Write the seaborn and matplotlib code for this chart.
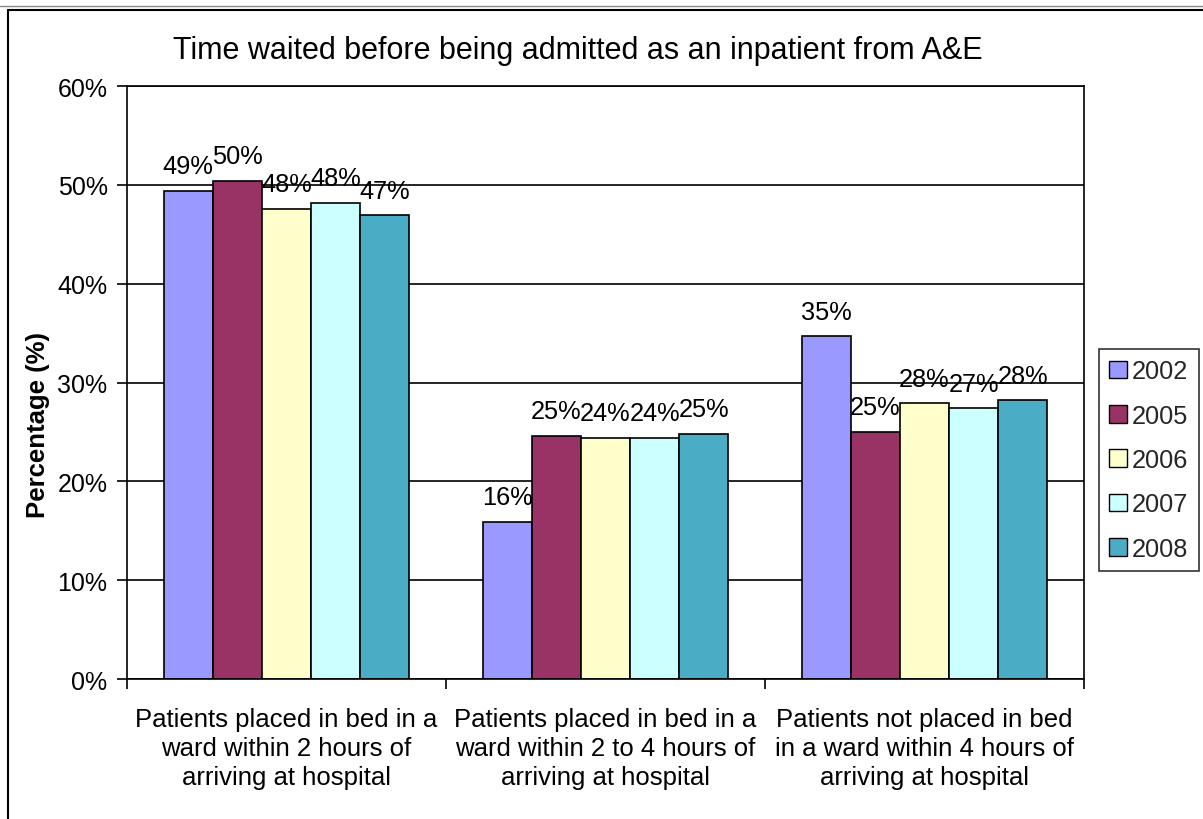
import matplotlib
matplotlib.use("Agg")
import matplotlib.pyplot as plt
import seaborn as sns
import pandas as pd
from matplotlib.lines import Line2D
from matplotlib.ticker import FixedLocator, PercentFormatter

categories = [
    "Patients placed in bed in a\nward within 2 hours of\narriving at hospital",
    "Patients placed in bed in a\nward within 2 to 4 hours of\narriving at hospital",
    "Patients not placed in bed\nin a ward within 4 hours of\narriving at hospital",
]
years = ["2002", "2005", "2006", "2007", "2008"]
values = {
    "2002": [49.4, 15.9, 34.7],
    "2005": [50.4, 24.6, 25.0],
    "2006": [47.6, 24.4, 27.9],
    "2007": [48.2, 24.4, 27.4],
    "2008": [46.9, 24.8, 28.2],
}
colors = ["#9999FF", "#993366", "#FFFFCC", "#CCFFFF", "#4BACC6"]

rows = []
for y in years:
    for c, v in zip(categories, values[y]):
        rows.append({"category": c, "year": y, "value": v})
df = pd.DataFrame(rows)

sns.set_theme(style="white")
plt.rcParams["font.family"] = ["Liberation Sans", "DejaVu Sans"]

fig = plt.figure(figsize=(12.03, 8.2), dpi=100)
ax = fig.add_axes([0.1056, 0.1707, 0.7955, 0.7232])

sns.barplot(data=df, x="category", y="value", hue="year", order=categories,
            hue_order=years, palette=colors, width=0.77, edgecolor="black",
            linewidth=1.2, saturation=1, ax=ax, errorbar=None, legend=True)

for cont, y in zip(ax.containers, years):
    labels = [f"{round(v):d}%" for v in values[y]]
    ax.bar_label(cont, labels=labels, padding=9, fontsize=18.3, color="black")

ax.set_ylim(0, 60)
ax.set_xlim(-0.5, 2.5)
ax.yaxis.set_major_locator(FixedLocator(range(0, 61, 10)))
ax.yaxis.set_major_formatter(PercentFormatter(decimals=0))
ax.grid(axis="y", color="black", linewidth=1.2)
ax.set_axisbelow(True)
for s in ax.spines.values():
    s.set_visible(True)
    s.set_color("black")
    s.set_linewidth(1.2)
ax.tick_params(axis="y", which="major", left=True, length=7, width=1.2,
               labelsize=18, pad=7, colors="black")
ax.set_xticks([0, 1, 2])
ax.set_xticklabels(categories, fontsize=18.5, linespacing=1.28)
ax.tick_params(axis="x", which="major", length=0, pad=20, labelcolor="black")
ax.set_xticks([-0.5, 0.5, 1.5, 2.5], minor=True)
ax.tick_params(axis="x", which="minor", bottom=True, length=7, width=1.2, color="black")
ax.set_xlabel("")
ax.set_ylabel("Percentage (%)", fontsize=18.5, fontweight="bold", color="black")
ax.yaxis.set_label_coords(-0.08, 0.43)

fig.text(0.48, 0.938, "Time waited before being admitted as an inpatient from A&E",
         ha="center", va="center", fontsize=22, color="black")

leg = ax.legend(title=None, loc="upper left", bbox_to_anchor=(1.0157, 0.556),
                fontsize=18.3, frameon=True, fancybox=False, edgecolor="black",
                handlelength=0.7, handleheight=0.7, handletextpad=0.2,
                labelspacing=0.8, borderpad=0.4, borderaxespad=0)
leg.get_frame().set_linewidth(1.2)
for h in leg.legend_handles:
    h.set_edgecolor("black")
    h.set_linewidth(1.0)

# outer frame (left and top edges visible in the reference)
fig.add_artist(Line2D([0.0065, 0.0065], [0, 0.986], color="black", lw=1.5,
                      transform=fig.transFigure))
fig.add_artist(Line2D([0.0065, 1], [0.986, 0.986], color="black", lw=1.5,
                      transform=fig.transFigure))
fig.add_artist(Line2D([0, 1], [0.991, 0.991], color="#888888", lw=1.0,
                      transform=fig.transFigure))

fig.savefig("out.png", dpi=100)
